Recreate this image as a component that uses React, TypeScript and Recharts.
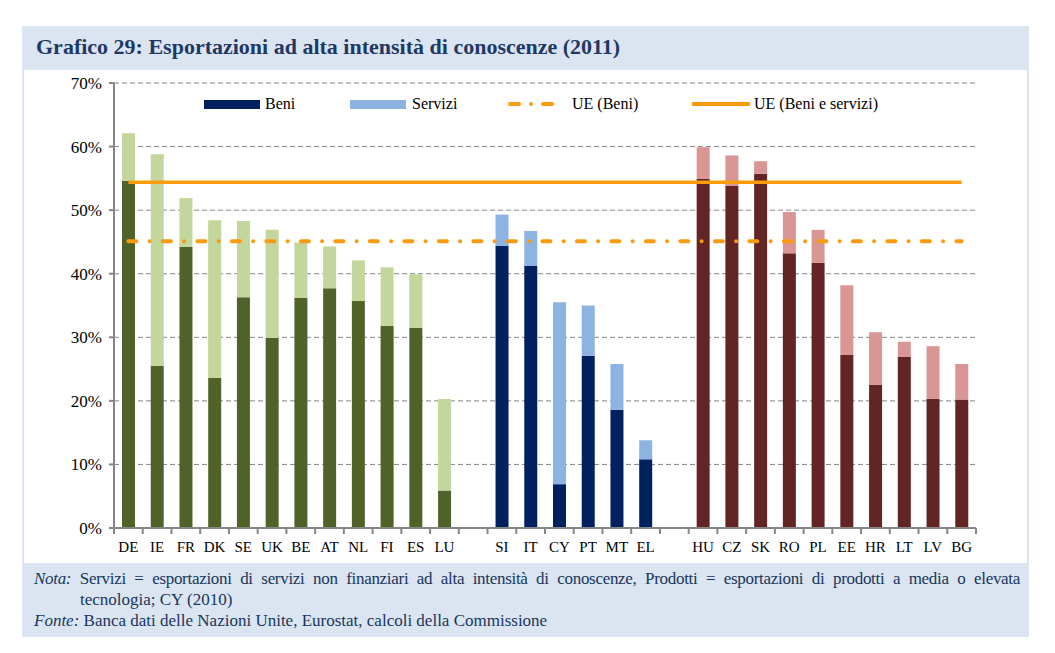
import { ComposedChart, Bar, Line, XAxis, YAxis, CartesianGrid, Cell } from "recharts";

const categories = [
  "DE", "IE", "FR", "DK", "SE", "UK", "BE", "AT", "NL", "FI", "ES", "LU",
  "gap1",
  "SI", "IT", "CY", "PT", "MT", "EL",
  "gap2",
  "HU", "CZ", "SK", "RO", "PL", "EE", "HR", "LT", "LV", "BG",
];

// 0 = UE-15 (verde), 1 = Sud (blu), 2 = Est (rosso), -1 = spazio vuoto
const groups = [
  0, 0, 0, 0, 0, 0, 0, 0, 0, 0, 0, 0,
  -1,
  1, 1, 1, 1, 1, 1,
  -1,
  2, 2, 2, 2, 2, 2, 2, 2, 2, 2,
];

const beni = [
  54.6, 25.5, 44.2, 23.6, 36.3, 29.9, 36.2, 37.7, 35.7, 31.8, 31.5, 5.9,
  null,
  44.4, 41.2, 6.9, 27.1, 18.6, 10.8,
  null,
  54.9, 53.8, 55.7, 43.2, 41.7, 27.2, 22.5, 26.9, 20.3, 20.2,
];

const servizi = [
  7.5, 33.3, 7.7, 24.8, 12.0, 17.0, 8.7, 6.6, 6.4, 9.2, 8.4, 14.4,
  null,
  4.9, 5.5, 28.6, 7.9, 7.2, 3.0,
  null,
  5.0, 4.8, 2.0, 6.5, 5.2, 11.0, 8.3, 2.4, 8.3, 5.6,
];

const ueBeni = 45.1;
const ueBeniServizi = 54.4;

const yTicks = [0, 10, 20, 30, 40, 50, 60, 70];

const DARK = ["#4f6228", "#002060", "#632523"];
const LIGHT = ["#c3d69b", "#8db3e2", "#d99694"];
const ORANGE = "#f99b0c";
const AXIS = "#868686";
const FONT = "'Liberation Serif', 'Times New Roman', serif";

const rows = categories.map((name, i) => ({
  name,
  group: groups[i],
  beni: beni[i],
  servizi: servizi[i],
  ueBeni,
  ueBeniServizi,
}));

const CHART_W = 1003;
const CHART_H = 493;
const MARGIN = { top: 13, right: 51, left: 0, bottom: 0 };
const Y_W = 90;
const PLOT_W = CHART_W - MARGIN.right - MARGIN.left - Y_W;
const STEP = PLOT_W / categories.length;

function XTick(props: any) {
  const { x, y, payload, index } = props;
  const label = String(payload.value).startsWith("gap") ? "" : payload.value;
  return (
    <g>
      <line x1={x - STEP / 2} x2={x - STEP / 2} y1={y} y2={y + 6} stroke={AXIS} strokeWidth={2} />
      {index === categories.length - 1 && (
        <line x1={x + STEP / 2} x2={x + STEP / 2} y1={y} y2={y + 6} stroke={AXIS} strokeWidth={2} />
      )}
      <text x={x} y={y + 24} textAnchor="middle" fontFamily={FONT} fontSize={15} fill="#000">
        {label}
      </text>
    </g>
  );
}

function LegendBox() {
  const text = { position: "absolute" as const, fontFamily: FONT, fontSize: 16, lineHeight: "18px", color: "#000", whiteSpace: "nowrap" as const };
  return (
    <>
      <div style={{ position: "absolute", left: 204 - 24, top: 100 - 70, width: 56, height: 9, background: DARK[1] }} />
      <div style={{ ...text, left: 265 - 24, top: 95 - 70 }}>Beni</div>
      <div style={{ position: "absolute", left: 350 - 24, top: 100 - 70, width: 56, height: 9, background: LIGHT[1] }} />
      <div style={{ ...text, left: 412 - 24, top: 95 - 70 }}>Servizi</div>
      <svg style={{ position: "absolute", left: 506 - 24, top: 99 - 70 }} width={54} height={10}>
        <line x1={4} x2={50} y1={5} y2={5} stroke={ORANGE} strokeWidth={4} strokeLinecap="round" strokeDasharray="9 12 0 12" />
      </svg>
      <div style={{ ...text, left: 572 - 24, top: 95 - 70 }}>UE (Beni)</div>
      <svg style={{ position: "absolute", left: 690 - 24, top: 99 - 70 }} width={62} height={10}>
        <line x1={2} x2={60} y1={5} y2={5} stroke={ORANGE} strokeWidth={4} />
      </svg>
      <div style={{ ...text, left: 754 - 24, top: 95 - 70 }}>UE (Beni e servizi)</div>
    </>
  );
}

export default function App() {
  return (
    <div
      style={{
        position: "absolute",
        left: 22,
        top: 26,
        width: 1007,
        height: 611,
        background: "#dbe5f1",
        fontFamily: FONT,
      }}
    >
      <div
        style={{
          position: "absolute",
          left: 14,
          top: 7,
          lineHeight: "28px",
          fontSize: 22,
          fontWeight: "bold",
          color: "#1f3864",
          whiteSpace: "nowrap",
        }}
      >
        Grafico 29: Esportazioni ad alta intensità di conoscenze (2011)
      </div>

      <div style={{ position: "absolute", left: 2, top: 44, width: CHART_W, height: CHART_H, background: "#fff" }}>
        <ComposedChart width={CHART_W} height={CHART_H} data={rows} margin={MARGIN}>
          <CartesianGrid vertical={false} stroke={AXIS} strokeDasharray="5 3" />
          <XAxis
            dataKey="name"
            interval={0}
            height={35}
            tickSize={0}
            tickMargin={0}
            tickLine={false}
            axisLine={{ stroke: AXIS, strokeWidth: 2 }}
            tick={<XTick />}
          />
          <YAxis
            width={Y_W}
            domain={[0, 70]}
            ticks={yTicks}
            interval={0}
            tickSize={5}
            tickMargin={7}
            tickLine={{ stroke: AXIS, strokeWidth: 2 }}
            axisLine={{ stroke: AXIS, strokeWidth: 2 }}
            tick={{ fontFamily: FONT, fontSize: 17, fill: "#000" }}
            tickFormatter={(v) => `${v}%`}
          />
          <Bar dataKey="beni" stackId="s" barSize={13} isAnimationActive={false}>
            {rows.map((r, i) => (
              <Cell key={i} fill={r.group >= 0 ? DARK[r.group] : "none"} />
            ))}
          </Bar>
          <Bar dataKey="servizi" stackId="s" barSize={13} isAnimationActive={false}>
            {rows.map((r, i) => (
              <Cell key={i} fill={r.group >= 0 ? LIGHT[r.group] : "none"} />
            ))}
          </Bar>
          <Line
            dataKey="ueBeni"
            stroke={ORANGE}
            strokeWidth={4}
            strokeLinecap="round"
            strokeDasharray="8 13.25 0 13.25"
            dot={false}
            activeDot={false}
            isAnimationActive={false}
          />
          <Line
            dataKey="ueBeniServizi"
            stroke={ORANGE}
            strokeWidth={3.5}
            dot={false}
            activeDot={false}
            isAnimationActive={false}
          />
        </ComposedChart>
        <LegendBox />
      </div>

      <div
        style={{
          position: "absolute",
          left: 12,
          top: 542,
          width: 986,
          fontSize: 17,
          lineHeight: "21px",
          color: "#17365d",
        }}
      >
        <div style={{ textAlign: "justify", textAlignLast: "justify", whiteSpace: "nowrap", letterSpacing: -0.3 }}>
          <i>Nota:</i> Servizi = esportazioni di servizi non finanziari ad alta intensità di conoscenze, Prodotti =
          esportazioni di prodotti a media o elevata
        </div>
        <div style={{ paddingLeft: 46 }}>tecnologia; CY (2010)</div>
        <div>
          <i>Fonte:</i> Banca dati delle Nazioni Unite, Eurostat, calcoli della Commissione
        </div>
      </div>
    </div>
  );
}
